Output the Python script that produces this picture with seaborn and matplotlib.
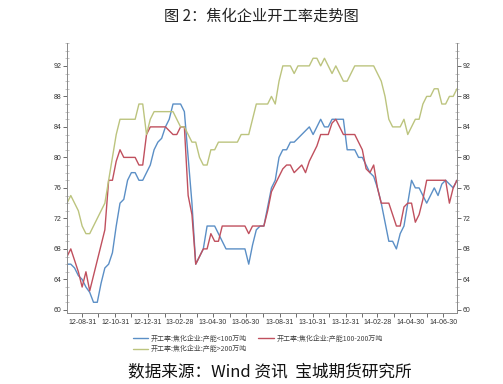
import numpy as np
import pandas as pd
import matplotlib
matplotlib.use("Agg")
import matplotlib.pyplot as plt
import matplotlib.dates as mdates
from matplotlib.ticker import MultipleLocator
from matplotlib.lines import Line2D
import seaborn as sns

# ---------------- data (weekly) ----------------
start_date = "2012-08-03"
n_weeks = 104

cap_small = [  # 开工率:焦化企业:产能<100万吨
    66, 66, 65.5, 64.5, 64, 63, 62.3, 61, 61, 63.5,
    65.5, 66, 67.5, 71, 74, 74.5, 77, 78, 78, 77,
    77, 78, 79, 81, 82, 82.5, 84, 85, 87, 87,
    87, 86, 80, 74, 66, 67, 68, 71, 71, 71,
    70, 69, 68, 68, 68, 68, 68, 68, 66, 68.5,
    70.5, 71, 71, 73.5, 76, 77, 80, 81, 81, 82,
    82, 82.5, 83, 83.5, 84, 83, 84, 85, 84, 84,
    85, 85, 85, 85, 81, 81, 81, 80, 80, 79,
    78, 77.5, 76, 74, 71.5, 69, 69, 68, 70, 71,
    74, 77, 76, 76, 75, 74, 75, 76, 75, 76.5,
    77, 76.5, 76, 77,
]
cap_mid = [  # 开工率:焦化企业:产能100-200万吨
    67, 68, 66.5, 65, 63, 65, 62.5, 64.5, 66.5, 68.5,
    70.5, 77, 77, 79.5, 81, 80, 80, 80, 80, 79,
    79, 83, 84, 84, 84, 84, 84, 83.5, 83, 83,
    84, 84, 75, 72.5, 66, 67, 68, 68, 70, 69,
    69, 71, 71, 71, 71, 71, 71, 71, 70, 71,
    71, 71, 71, 73, 75.5, 76.5, 77.5, 78.5, 79, 79,
    78, 78.5, 79, 78, 79.5, 80.5, 81.5, 83, 83, 83,
    84.5, 85, 84, 83, 83, 83, 83, 82, 81, 78.5,
    78, 79, 76, 74, 74, 74, 72.5, 71, 71, 73.5,
    74, 74, 71.5, 72.5, 74.5, 77, 77, 77, 77, 77,
    77, 74, 76, 77,
]
cap_large = [  # 开工率:焦化企业:产能>200万吨
    74, 75, 74, 73, 71, 70, 70, 71, 72, 73,
    74, 77, 80, 83, 85, 85, 85, 85, 85, 87,
    87, 83, 85, 86, 86, 86, 86, 86, 86, 85,
    84, 84, 83, 82, 82, 80, 79, 79, 81, 81,
    82, 82, 82, 82, 82, 82, 83, 83, 83, 85,
    87, 87, 87, 87, 88, 87, 90, 92, 92, 92,
    91, 92, 92, 92, 92, 93, 93, 92, 93, 92,
    91, 92, 91, 90, 90, 91, 92, 92, 92, 92,
    92, 92, 91, 90, 88, 85, 84, 84, 84, 85,
    83, 84, 85, 85, 87, 88, 88, 89, 89, 87,
    87, 88, 88, 89,
]
series_names = [
    "开工率:焦化企业:产能<100万吨",
    "开工率:焦化企业:产能100-200万吨",
    "开工率:焦化企业:产能>200万吨",
]
colors = ["#5b8fc6", "#c0505e", "#bcc47e"]
y_ticks = [60, 64, 68, 72, 76, 80, 84, 88, 92]
title = "图 2：焦化企业开工率走势图"
source = "数据来源：Wind 资讯  宝城期货研究所"

# ---------------- build table ----------------
dates = pd.date_range(start_date, periods=n_weeks, freq="7D")
df = pd.DataFrame({
    "date": np.concatenate([dates, dates, dates]),
    "value": cap_small + cap_mid + cap_large,
    "series": np.repeat(series_names, n_weeks),
})

sns.set_style("ticks")
plt.rcParams["font.family"] = ["Noto Sans CJK SC", "DejaVu Sans"]

fig = plt.figure(figsize=(5.03, 3.84), dpi=100)
ax = fig.add_axes([0.1332, 0.185, 0.7753, 0.703])

sns.lineplot(data=df, x="date", y="value", hue="series",
             hue_order=series_names, palette=colors,
             linewidth=1.0, ax=ax, legend=False)

ax.set_xlim(dates[0], dates[-1])
ax.set_ylim(59.6, 95)
ax.set_xlabel("")
ax.set_ylabel("")

# y ticks both sides
ax.set_yticks(y_ticks)
ax.yaxis.set_minor_locator(MultipleLocator(1))
ax.tick_params(axis="y", which="major", direction="out", length=3, width=0.6,
               left=True, right=True, labelleft=True, labelright=True,
               labelsize=5, colors="#555555", pad=1)
ax.tick_params(axis="y", which="minor", direction="inout", length=3, width=0.4,
               left=True, right=True, colors="#999999")

# x ticks at month ends, label every second one
month_ends = pd.date_range("2012-08-31", "2014-06-30", freq="ME")
ax.set_xticks(mdates.date2num(month_ends))
ax.set_xticklabels([d.strftime("%y-%m-%d") if i % 2 == 0 else ""
                    for i, d in enumerate(month_ends)])
ax.tick_params(axis="x", which="major", direction="out", length=3, width=0.6,
               labelsize=5, colors="#555555", pad=1)
for lab in ax.get_xticklabels() + ax.get_yticklabels():
    lab.set_fontfamily("Liberation Sans")
    lab.set_color("#333333")
for lab in ax.yaxis.get_ticklabels(which="major"):
    lab.set_fontfamily("Liberation Sans")

for s in ["left", "right", "bottom"]:
    ax.spines[s].set_color("#8a8a8a")
    ax.spines[s].set_linewidth(0.7)
ax.spines["top"].set_visible(False)

# legend (column 1: <100, >200 ; column 2: 100-200)
handles = [Line2D([], [], color=colors[0], lw=1.0),
           Line2D([], [], color=colors[2], lw=1.0),
           Line2D([], [], color=colors[1], lw=1.0)]
labels = [series_names[0], series_names[2], series_names[1]]
fig.legend(handles, labels, loc="upper left", bbox_to_anchor=(0.252, 0.145),
           ncol=2, frameon=False, fontsize=5, handlelength=2.2,
           handletextpad=0.4, columnspacing=1.6, labelspacing=0.35,
           labelcolor="#444444")

fig.text(0.52, 0.958, title, ha="center", va="center", fontsize=11,
         color="#222222")
fig.text(0.537, 0.031, source, ha="center", va="center", fontsize=12,
         color="#111111")

fig.savefig("out.png", dpi=100)
